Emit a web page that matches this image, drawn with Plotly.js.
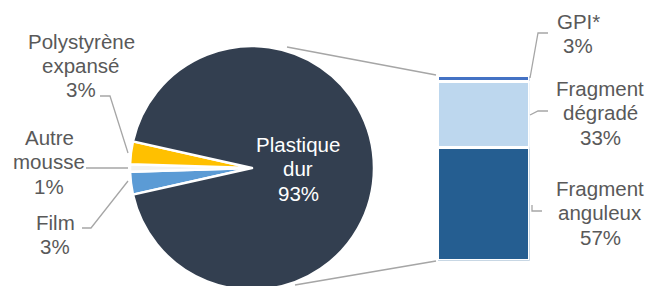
<!DOCTYPE html>
<html>
<head>
<meta charset="utf-8">
<script src="https://cdn.plot.ly/plotly-3.0.1.min.js"></script>
<style>
  html, body { margin: 0; padding: 0; overflow: hidden; background: #fff; }
  #chart { width: 652px; height: 310px; }
</style>
</head>
<body>
<div id="chart"></div>
<script>
// ---- Data ----
const pieLabels = ['Film', 'Autre<br>mousse', 'Polystyrène<br>expansé', 'Plastique<br>dur'];
const pieValues = [3, 1, 3, 93];
const pieColors = ['#5B9BD5', '#F2F2F2', '#FFC000', '#333F50'];

const barLabels = ['Fragment<br>anguleux', 'Fragment<br>dégradé', 'GPI*'];
const barValues = [57, 33, 3];
const barColors = ['#255E91', '#BDD7EE', '#4472C4'];

// ---- Geometry helpers (pixel -> paper) ----
const W = 652, H = 310;
const px = x => x / W;
const py = y => 1 - y / H;

const GREY = '#595959';
const LINE = '#A6A6A6';
const FONT = 'Liberation Sans, Arial, sans-serif';
const FS = 20.5;
const LS = 24.5;

const traces = [];

traces.push({
  type: 'pie',
  labels: pieLabels,
  values: pieValues,
  sort: false,
  direction: 'clockwise',
  rotation: 270 - (pieValues[0] + pieValues[1] + pieValues[2]) / 2 * 3.6,
  marker: { colors: pieColors, line: { color: '#ffffff', width: 2.5 } },
  textinfo: 'none',
  hoverinfo: 'label+percent',
  showlegend: false,
  domain: { x: [px(130), px(374)], y: [py(290), py(46)] }
});

barLabels.forEach((lab, i) => {
  traces.push({
    type: 'bar',
    x: [0],
    y: [barValues[i]],
    name: lab,
    marker: { color: barColors[i], line: { color: '#ffffff', width: 3 } },
    width: 1,
    showlegend: false,
    hoverinfo: 'name+y',
    xaxis: 'x',
    yaxis: 'y'
  });
});

const total = barValues.reduce((a, b) => a + b, 0);

// ---- Labels ----
const annotations = [];
function addLabel(text, cx, y0, color) {
  text.split('<br>').forEach((line, k) => {
    annotations.push({
      text: line, xref: 'paper', yref: 'paper',
      x: px(cx), y: py(y0 + k * LS),
      xanchor: 'center', yanchor: 'middle', showarrow: false,
      font: { family: FONT, size: FS, color: color }
    });
  });
}
// pie labels
addLabel(pieLabels[2] + '<br>' + pieValues[2] + '%', 81, 41, GREY);
addLabel(pieLabels[1] + '<br>' + pieValues[1] + '%', 49, 137, GREY);
addLabel(pieLabels[0] + '<br>' + pieValues[0] + '%', 55, 222, GREY);
addLabel(pieLabels[3] + '<br>' + pieValues[3] + '%', 298, 144, '#ffffff');
// bar labels
addLabel(barLabels[2] + '<br>' + barValues[2] + '%', 578, 21, GREY);
addLabel(barLabels[1] + '<br>' + barValues[1] + '%', 600, 88, GREY);
addLabel(barLabels[0] + '<br>' + barValues[0] + '%', 600, 188, GREY);

// ---- Leader & connector lines ----
function path(pts, color, width) {
  return {
    type: 'path', xref: 'paper', yref: 'paper',
    path: 'M' + pts.map(p => px(p[0]) + ',' + py(p[1])).join(' L'),
    line: { color: color, width: width }
  };
}
const shapes = [
  path([[100, 96], [110, 96], [128, 153]], LINE, 1.3),
  path([[86, 168], [128, 168]], LINE, 1.3),
  path([[82, 228], [91, 228], [128, 181]], LINE, 1.3),
  path([[548, 33], [538, 33], [530, 78]], LINE, 1.3),
  path([[548, 111], [538, 111], [530, 115]], LINE, 1.3),
  path([[542, 211], [532, 211], [532, 205]], LINE, 1.3),
  path([[287, 47], [436, 75]], LINE, 1.5),
  path([[295, 285], [436, 261]], LINE, 1.5)
];

const layout = {
  width: W, height: H,
  margin: { l: 0, r: 0, t: 0, b: 0 },
  paper_bgcolor: '#ffffff', plot_bgcolor: 'rgba(0,0,0,0)',
  barmode: 'stack', bargap: 0,
  xaxis: { domain: [px(437.5), px(529.5)], range: [-0.5, 0.5], visible: false, fixedrange: true },
  yaxis: { domain: [py(260.5), py(75.5)], range: [0, total], visible: false, fixedrange: true },
  annotations: annotations,
  shapes: shapes,
  font: { family: FONT, color: GREY }
};

Plotly.newPlot('chart', traces, layout, { displayModeBar: false, staticPlot: true });
</script>
</body>
</html>
